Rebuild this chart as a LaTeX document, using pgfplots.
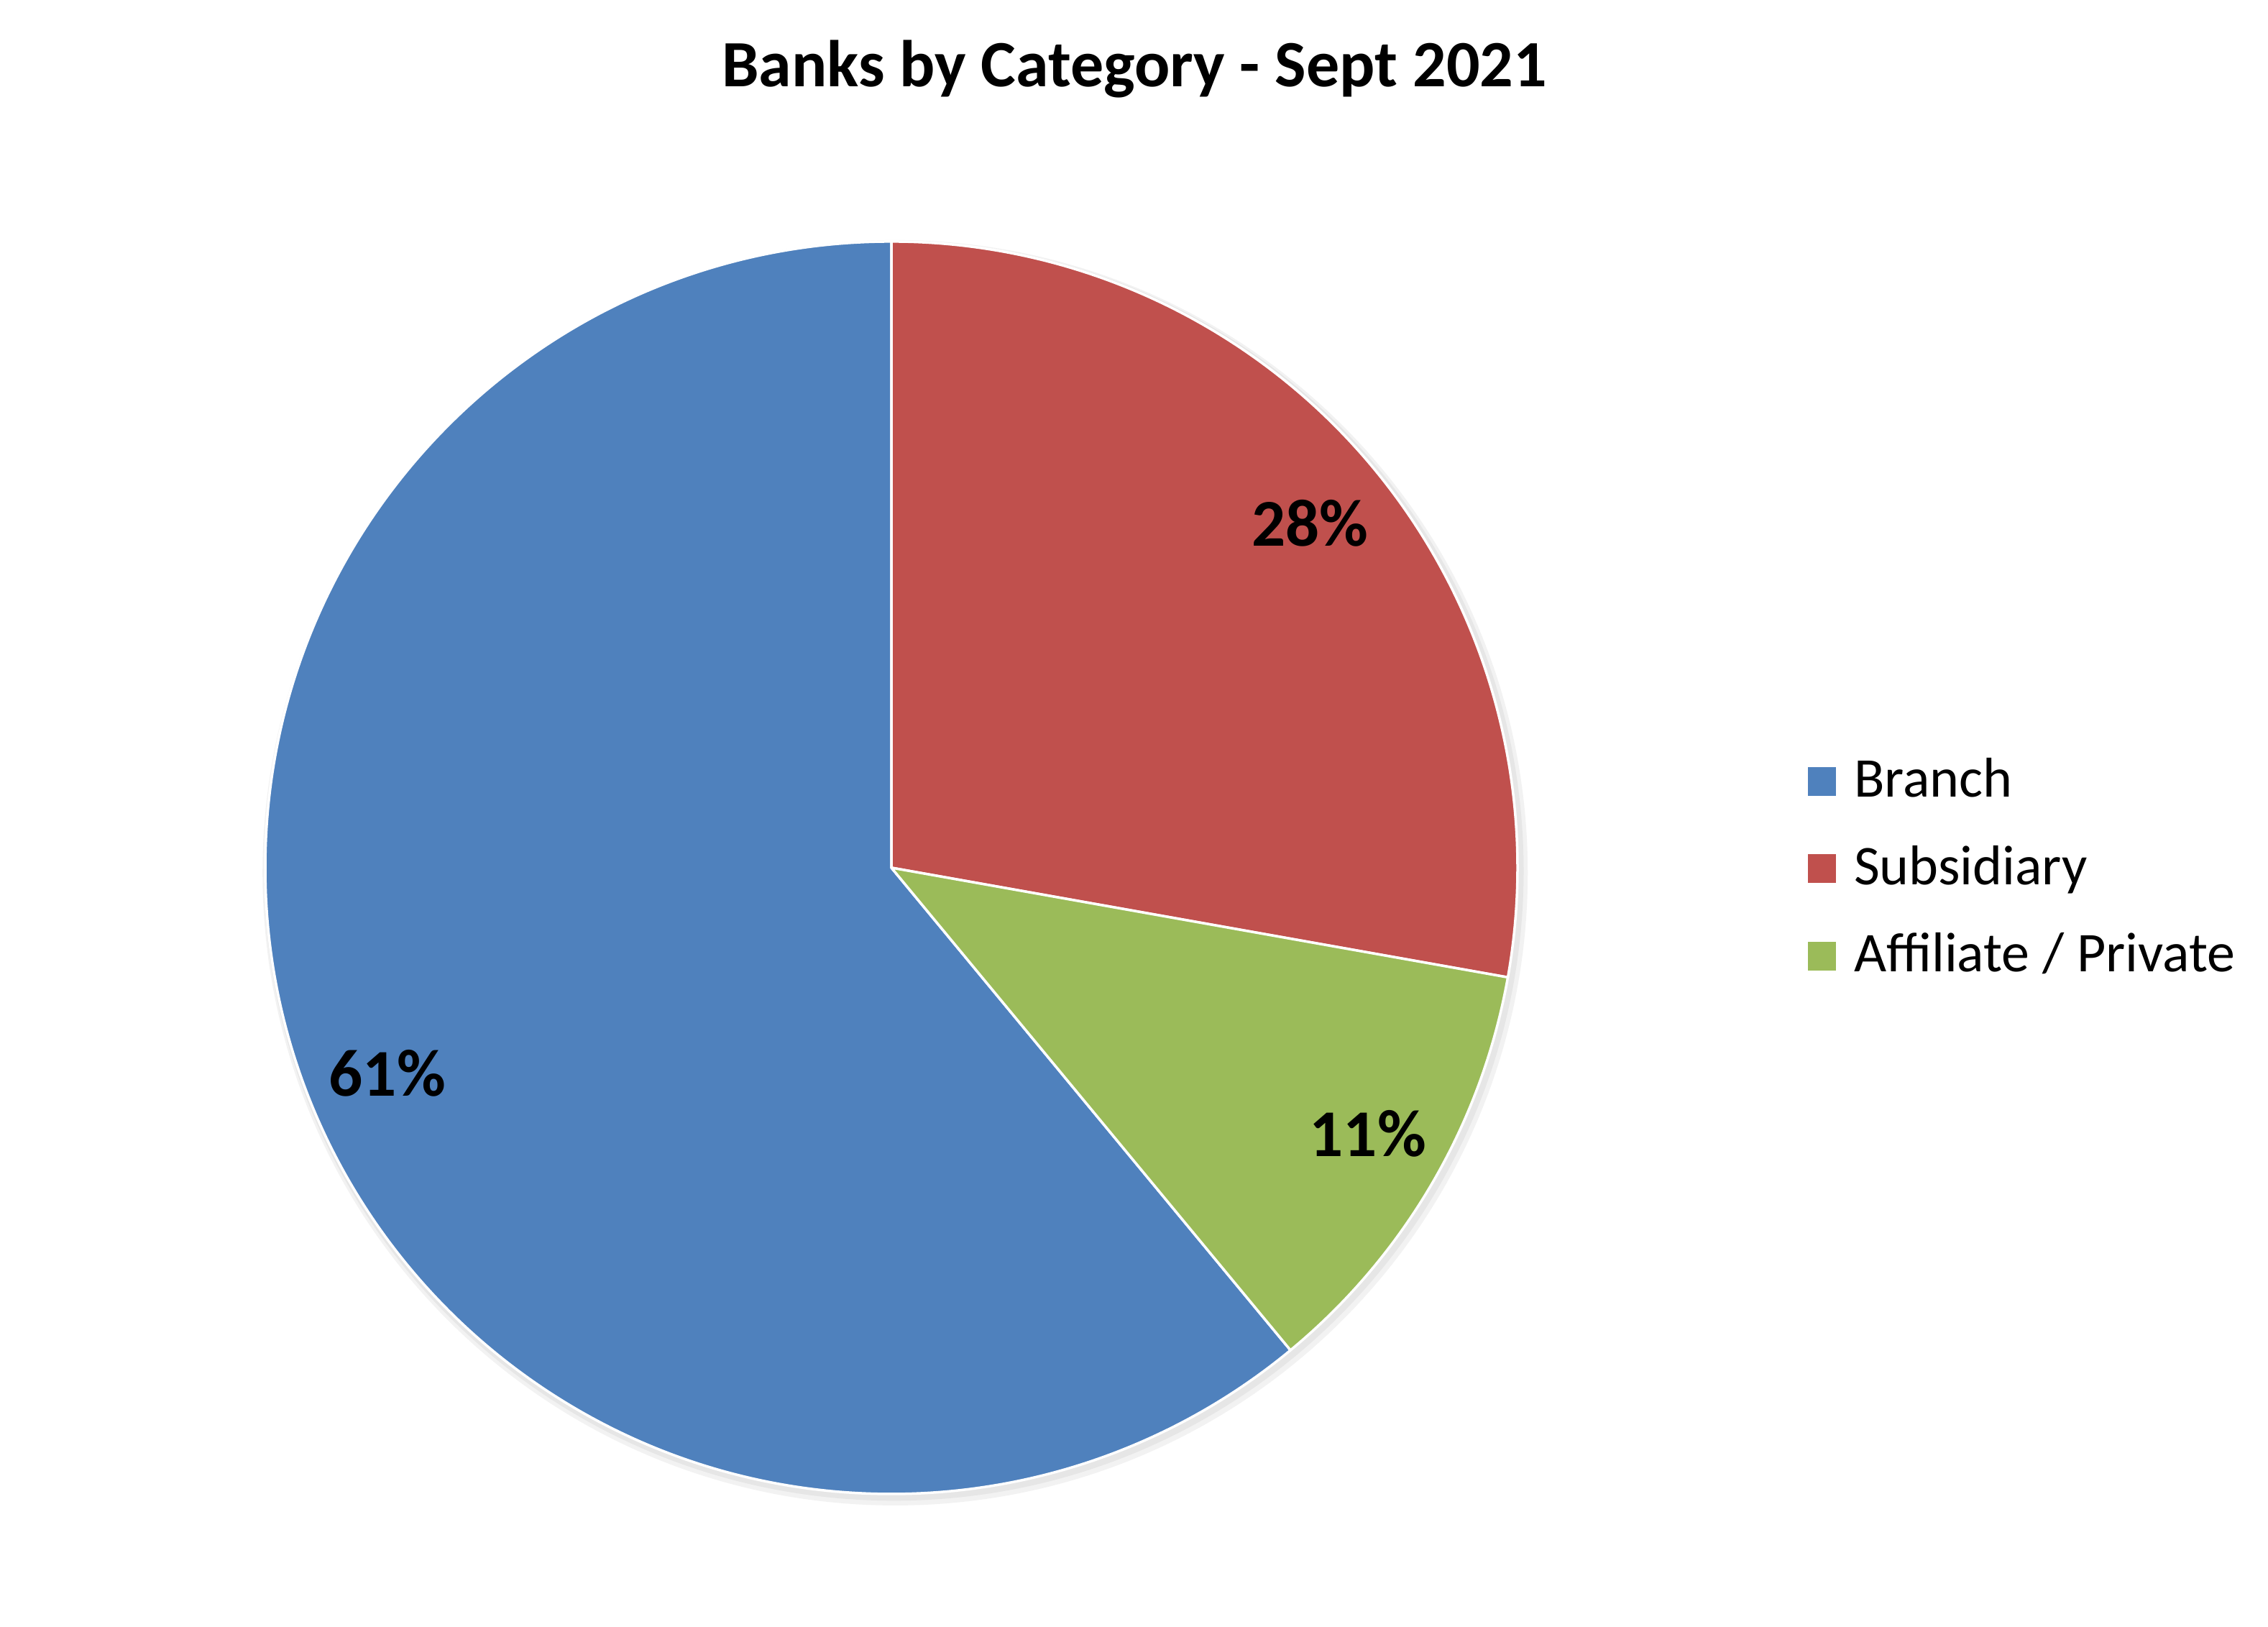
\documentclass[border=0pt]{standalone}
\usepackage{fontspec}
\setmainfont{Carlito}
\usepackage{pgfplots}
\usepackage{pgfplotstable}
\pgfplotsset{compat=1.18}
\definecolor{cBranch}{HTML}{4F81BD}
\definecolor{cSub}{HTML}{C0504D}
\definecolor{cAff}{HTML}{9BBB59}
\pgfplotstableread{
name value lx ly
Branch 61.0 -0.805 -0.328
Subsidiary 27.8 0.669 0.550
Affiliate 11.2 0.761 -0.425
}\piedata
\begin{document}
\begin{tikzpicture}
\useasboundingbox (0,0) rectangle (315.5pt,226.3pt);
\pgfplotstablegetelem{0}{value}\of\piedata \pgfmathsetmacro{\vA}{\pgfplotsretval}
\pgfplotstablegetelem{1}{value}\of\piedata \pgfmathsetmacro{\vB}{\pgfplotsretval}
\pgfplotstablegetelem{2}{value}\of\piedata \pgfmathsetmacro{\vC}{\pgfplotsretval}
\pgfplotstablegetelem{0}{lx}\of\piedata \edef\xA{\pgfplotsretval}
\pgfplotstablegetelem{0}{ly}\of\piedata \edef\yA{\pgfplotsretval}
\pgfplotstablegetelem{1}{lx}\of\piedata \edef\xB{\pgfplotsretval}
\pgfplotstablegetelem{1}{ly}\of\piedata \edef\yB{\pgfplotsretval}
\pgfplotstablegetelem{2}{lx}\of\piedata \edef\xC{\pgfplotsretval}
\pgfplotstablegetelem{2}{ly}\of\piedata \edef\yC{\pgfplotsretval}
\pgfmathsetmacro{\aA}{90+3.6*\vA}
\pgfmathsetmacro{\aB}{90-3.6*\vB}
\pgfmathsetmacro{\aC}{\aB-3.6*\vC}
\begin{axis}[
  at={(124.0pt,105.6pt)}, anchor=center,
  scale only axis, width=174.2pt, height=174.2pt,
  xmin=-1, xmax=1, ymin=-1, ymax=1,
  hide axis, clip=false,
]
% soft shadow
\fill[black, opacity=0.05] (axis cs:0.006,-0.008) circle[radius=88.0pt];
\fill[black, opacity=0.05] (axis cs:0.004,-0.005) circle[radius=87.6pt];
% sectors
\fill[cBranch, draw=white, line width=0.35pt, line join=round]
  (axis cs:0,0) -- (axis cs:0,1) arc[start angle=90, end angle=\aA, radius=87.1pt] -- cycle;
\fill[cSub, draw=white, line width=0.35pt, line join=round]
  (axis cs:0,0) -- (axis cs:0,1) arc[start angle=90, end angle=\aB, radius=87.1pt] -- cycle;
\fill[cAff, draw=white, line width=0.35pt, line join=round]
  (axis cs:0,0) -- (axis cs:{cos(\aB)},{sin(\aB)}) arc[start angle=\aB, end angle=\aC, radius=87.1pt] -- cycle;
% data labels
\node[font=\fontsize{9.3}{11}\selectfont\bfseries] at (axis cs:\xA,\yA) {\pgfmathprintnumber[fixed,precision=0,assume math mode=true]{\vA}\%};
\node[font=\fontsize{9.3}{11}\selectfont\bfseries] at (axis cs:\xB,\yB) {\pgfmathprintnumber[fixed,precision=0,assume math mode=true]{\vB}\%};
\node[font=\fontsize{9.3}{11}\selectfont\bfseries] at (axis cs:\xC,\yC) {\pgfmathprintnumber[fixed,precision=0,assume math mode=true]{\vC}\%};
\end{axis}
% title
\node[anchor=base, font=\fontsize{9.2}{11}\selectfont\bfseries, inner sep=0] at (157.8pt,214.2pt) {Banks by Category - Sept 2021};
% legend
\fill[cBranch] (251.5pt,115.6pt) rectangle (255.4pt,119.6pt);
\fill[cSub]    (251.5pt,103.45pt) rectangle (255.4pt,107.45pt);
\fill[cAff]    (251.5pt,91.3pt) rectangle (255.4pt,95.3pt);
\node[anchor=base west, inner sep=0, font=\fontsize{7.8}{9}\selectfont] at (257.7pt,115.4pt) {Branch};
\node[anchor=base west, inner sep=0, font=\fontsize{7.8}{9}\selectfont] at (257.7pt,103.2pt) {Subsidiary};
\node[anchor=base west, inner sep=0, font=\fontsize{7.8}{9}\selectfont] at (257.7pt,91.1pt) {Affiliate / Private};
\end{tikzpicture}
\end{document}
